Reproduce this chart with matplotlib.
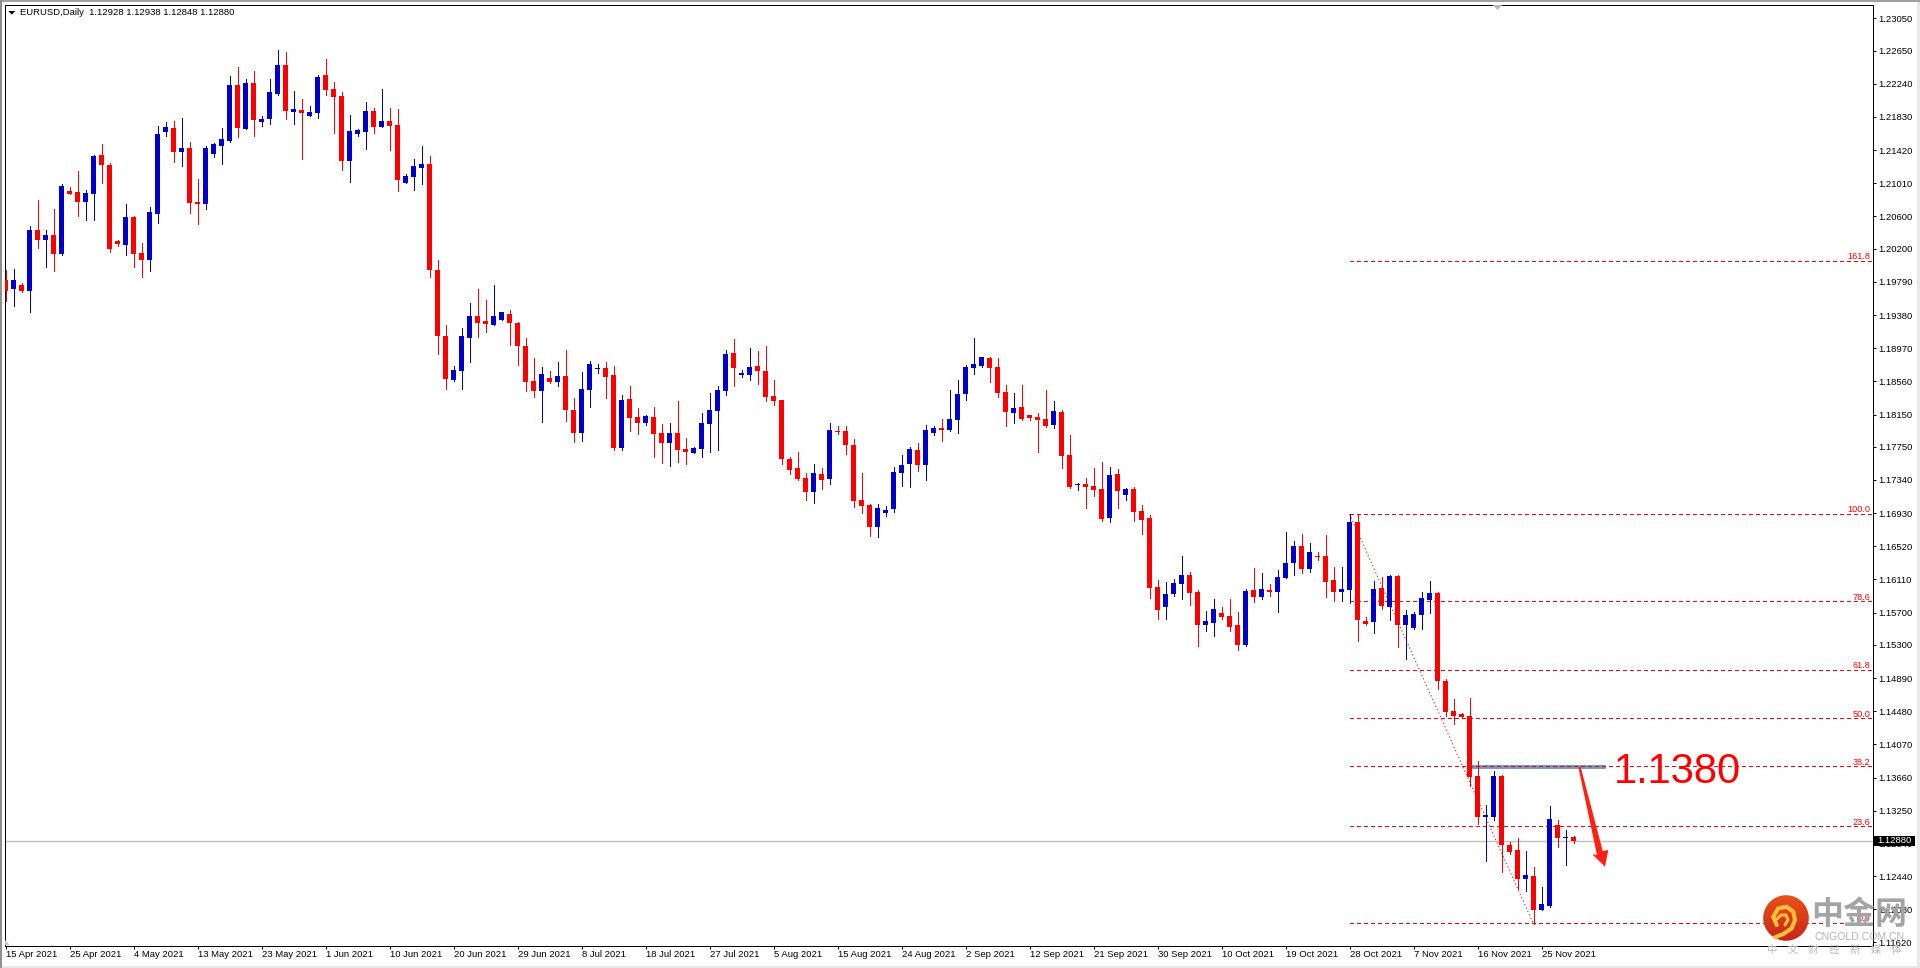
import numpy as np
import matplotlib
matplotlib.use("Agg")
import matplotlib.pyplot as plt
from matplotlib.patches import Polygon, Rectangle, Circle

plt.rcParams['lines.scale_dashes'] = False

# EURUSD daily candles, in points (1 point = 0.00001)
opens = [
119814,119702,119752,119678,120432,120308,120370,120135,120915,120902,
120778,120877,121360,121236,120296,120247,120593,120148,120061,120630,
121644,121694,121397,121446,120778,120754,121372,121471,121533,122226,
121681,122250,121768,121805,122114,122473,121892,121916,121842,121879,
122349,122176,122090,121286,121620,121644,121904,121706,121780,121731,
121013,121088,121199,121249,119937,119121,118577,118688,119096,119368,
119307,119257,119319,119393,119282,118997,118564,118441,118602,118552,
118626,118206,117921,118453,118713,118725,118639,117736,118342,118119,
118045,118119,117921,117797,117921,117723,117674,117723,118032,118193,
118441,118911,118639,118639,118750,118688,118379,118329,117600,117488,
117365,117191,117414,117352,117946,117946,117773,117092,117031,116758,
116932,116981,117426,117538,117711,117525,117921,117983,117958,118082,
118404,118725,118750,118849,118738,118428,118169,118243,118144,118119,
118094,118020,118181,117649,117278,117290,117266,117229,116870,117414,
117154,117229,116956,116870,116016,115769,115930,116053,116165,115955,
115546,115571,115695,115658,115546,115299,115979,115893,115979,115955,
116128,116313,116524,116239,116400,116400,116103,115955,115979,116820,
115596,115584,116004,115769,116152,115546,115509,115670,115856,115942,
114854,114483,114445,114421,113679,113171,113171,113679,112825,112763,
112405,112442,112021,112071,113073,112912,112928]
closes = [
119678,119814,119678,120432,120308,120370,120135,120976,120877,120778,
120890,121347,121236,120197,120259,120593,120135,120061,120655,121620,
121706,121397,121446,120766,120754,121446,121496,121558,122226,121694,
122250,121793,121805,122139,122473,121904,121929,121879,121892,122325,
122164,122077,121286,121657,121669,121904,121706,121780,121718,121051,
121100,121224,121249,119937,119121,118589,118700,119121,119368,119282,
119269,119368,119418,119282,118997,118552,118441,118651,118552,118626,
118206,117921,118465,118775,118725,118614,117736,118329,118107,118045,
118132,117909,117797,117921,117711,117686,117736,118045,118206,118453,
118898,118725,118663,118738,118688,118366,118317,117600,117464,117352,
117191,117426,117340,117958,117934,117773,117080,117018,116758,116994,
116969,117439,117525,117723,117525,117958,117983,117958,118094,118404,
118738,118775,118861,118725,118416,118181,118230,118094,118107,118082,
118008,118193,117637,117253,117290,117253,117216,116857,117402,117204,
117229,116944,116845,116004,115732,115930,116066,116165,115942,115546,
115596,115744,115645,115522,115299,115967,115893,115992,115955,116140,
116313,116524,116239,116449,116387,116078,115955,115992,116820,115608,
115559,115992,115781,116152,115546,115670,115682,115880,115942,114854,
114470,114421,114408,113666,113171,113196,113679,112825,112739,112405,
112454,112021,112095,113147,112912,112924,112880]
highs = [
119937,119950,119772,120482,120803,120432,120692,121001,120964,121162,
120927,121360,121496,121261,120308,120754,120605,120271,120717,121718,
121768,121780,121817,121521,121063,121471,121508,121694,122337,122448,
122300,122399,121842,122300,122659,122634,122151,122052,121966,122349,
122547,122263,122139,121855,121681,122015,121941,122176,121941,121929,
121125,121310,121471,121347,120061,119257,118750,119220,119529,119702,
119566,119752,119418,119443,119294,119096,118849,118738,118688,118799,
118948,118354,118676,118812,118775,118799,118750,118391,118503,118230,
118144,118243,118032,118045,118317,117859,117748,118169,118416,118503,
118948,119084,118700,118973,118935,118997,118577,118329,117624,117686,
117426,117538,117488,118045,118008,118008,117847,117426,117043,117043,
117018,117501,117649,117748,117797,118020,118008,118094,118453,118577,
118762,119096,118861,118861,118849,118515,118416,118515,118144,118169,
118453,118317,118206,117896,117303,117365,117488,117562,117501,117476,
117241,117253,117031,116907,116103,116078,116115,116400,116202,115979,
115720,115868,115769,115868,115707,115992,116251,116190,116053,116227,
116697,116585,116672,116561,116449,116660,116264,116264,116919,116919,
115645,116091,116140,116165,116165,115732,115707,115955,116091,115955,
114878,114631,114458,114643,113864,113320,113740,113691,112862,112912,
112751,112553,112306,113308,113134,113011,112938]
lows = [
119558,119492,119665,119418,120210,119974,119925,120123,120877,120605,
120556,120556,121013,120160,120234,120123,119974,119851,119925,120519,
121595,121273,121224,120642,120506,120692,121335,121249,121521,121582,
121681,121595,121718,121743,122102,121805,121743,121310,121842,121817,
122102,121632,121174,121026,121595,121434,121632,121706,121422,120915,
121013,120927,121001,119851,118898,118465,118564,118465,118799,119109,
119170,119257,119319,119010,118762,118441,118366,118057,118540,118503,
118070,117810,117822,118243,118663,118354,117711,117711,117946,117909,
118020,117624,117550,117513,117562,117538,117674,117624,117686,117711,
118391,118503,118614,118577,118527,118317,118268,117538,117414,117340,
117092,117055,117229,117290,117909,117661,117006,116932,116647,116635,
116895,116944,117266,117253,117451,117340,117896,117822,117946,117921,
118329,118651,118738,118552,118366,118008,118045,118082,118082,117686,
117995,117983,117488,117241,117216,116994,117142,116833,116820,116994,
117092,116833,116672,115880,115621,115621,115905,115868,115794,115287,
115472,115410,115621,115472,115237,115287,115831,115868,115905,115707,
116128,116165,116190,116202,116350,115893,115843,115843,115818,115348,
115546,115447,115744,115608,115274,115126,115497,115497,115695,114755,
114421,114322,114396,113555,113085,112627,113134,112491,112714,112281,
112256,111848,112021,112058,112800,112578,112848]

date_labels = ['15 Apr 2021','25 Apr 2021','4 May 2021','13 May 2021','23 May 2021','1 Jun 2021',
               '10 Jun 2021','20 Jun 2021','29 Jun 2021','8 Jul 2021','18 Jul 2021','27 Jul 2021',
               '5 Aug 2021','15 Aug 2021','24 Aug 2021','2 Sep 2021','12 Sep 2021','21 Sep 2021',
               '30 Sep 2021','10 Oct 2021','19 Oct 2021','28 Oct 2021','7 Nov 2021','16 Nov 2021','25 Nov 2021']
date_every = 8
price_ticks = [1.23050,1.22650,1.22240,1.21830,1.21420,1.21010,1.20600,1.20200,1.19790,1.19380,
               1.18970,1.18560,1.18150,1.17750,1.17340,1.16930,1.16520,1.16110,1.15700,1.15300,
               1.14890,1.14480,1.14070,1.13660,1.13250,1.12840,1.12440,1.12030,1.11620]
fib_names = ['0.0','23.6','38.2','50.0','61.8','78.6','100.0','161.8']
fib_prices = [1.11860,1.13056,1.13798,1.14392,1.14986,1.15839,1.16919,1.20045]
fib_start_bar = 168
fib_line_from = (168, 1.16919)
fib_line_to = (191, 1.11848)
last_price = 1.12880
resistance_price = 1.13779
resistance_bars = (183.3, 199.9)

W, H = 1920, 968
FONT = ['Liberation Sans', 'DejaVu Sans']
FS = 6.8
RED, BLUE = '#ff0000', '#0000cd'
PX = 0.72

fig = plt.figure(figsize=(W/100, H/100), dpi=100, facecolor='white')
ax = fig.add_axes([4.5/W, 1-945.5/H, 1868/W, 941/H], facecolor='white')

o, c, h, l = [np.array(a)/1e5 for a in (opens, closes, highs, lows)]
x = np.arange(len(o))
up = c >= o
cols = [BLUE if u else RED for u in up]

# last price line
ax.axhline(last_price, color='#c0c0c0', lw=1.0, zorder=1.5)

# resistance box
ax.add_patch(Rectangle((resistance_bars[0], resistance_price), resistance_bars[1]-resistance_bars[0],
                       0.00027, fc='#e4edf5', ec='#4682b4', lw=1.1, zorder=1.8))

# Fibonacci retracement
fx1 = (1872.5-5.5)/8
ax.hlines(fib_prices, fib_start_bar, fx1, colors=RED, lw=PX, linestyles=[(0, (2.88, 2.16))],
          antialiased=False, zorder=2)
ax.plot([fib_line_from[0], fib_line_to[0]], [fib_line_from[1], fib_line_to[1]], color=RED, lw=PX,
        ls=(0, (0.9, 1.8)), zorder=2)
for n, p in zip(fib_names, fib_prices):
    ax.annotate(n, (fx1, p), xytext=(-1.3, 1.3), textcoords='offset points', ha='right', va='baseline',
                color=RED, fontsize=6.6, family=FONT, zorder=3)

# candles
ax.vlines(x, l, h, colors=cols, lw=PX, antialiased=False, zorder=4)
ax.bar(x, np.maximum(np.abs(c-o), 0.00002), bottom=np.minimum(o, c), width=5/8, color=cols,
       linewidth=0, antialiased=False, zorder=5)

ax.set_xlim((4.5-5.5)/8, (1872.5-5.5)/8)
ax.set_ylim(1.115821, 1.232213)
ax.yaxis.tick_right()
ax.set_yticks(price_ticks)
ax.set_yticklabels([f'{v:.5f}' for v in price_ticks], family=FONT, fontsize=FS, color='black')
ax.set_xticks(np.arange(len(date_labels))*date_every)
ax.set_xticklabels(date_labels, family=FONT, fontsize=FS, color='black', ha='left')
ax.tick_params(axis='y', length=2.2, width=PX, pad=1.8, direction='out')
ax.tick_params(axis='x', length=2.2, width=PX, pad=1.0, direction='out')
for s in ax.spines.values():
    s.set_linewidth(PX)
    s.set_color('black')

# overlay in image pixels: window chrome, hand-drawn annotation, watermark
ov = fig.add_axes([0, 0, 1, 1], facecolor='none', zorder=10)
ov.set_xlim(0, W); ov.set_ylim(H, 0); ov.axis('off')

# chrome
ov.add_patch(Rectangle((0, 0), W, 2, fc='#a0a0a0', ec='none'))
ov.add_patch(Rectangle((0, 0), 2, H, fc='#909090', ec='none'))
ov.add_patch(Rectangle((1917, 2), 3, H, fc='#e8e8e8', ec='none'))
ov.add_patch(Rectangle((2, 965.5), W, 3, fc='#e8e8e8', ec='none'))
ov.add_patch(Polygon([(8.3, 11), (15.3, 11), (11.8, 14.6)], fc='black', ec='none'))
ov.add_patch(Polygon([(1492.7, 5), (1502.3, 5), (1497.5, 10)], fc='#b8b8b8', ec='none'))
ov.add_patch(Polygon([(5, 940), (5, 945), (10, 945)], fc='#c8c8c8', ec='none'))
ov.text(20, 12.5, 'EURUSD,Daily  1.12928 1.12938 1.12848 1.12880', family=FONT, fontsize=FS,
        color='black', ha='left', va='center')

# last price tag
ov.add_patch(Rectangle((1874, 835.7), 41, 10, fc='black', ec='none', zorder=3))
ov.text(1894.5, 840.6, '1.12880', family=FONT, fontsize=FS, color='white', ha='center', va='center', zorder=4)

# hand-drawn label and arrow
ov.text(1614, 783, '1.1380', family='Liberation Sans', fontsize=30, color='#ff0000', ha='left', va='baseline')
ov.add_patch(Polygon([(1578.3, 767), (1580.7, 767), (1602.7, 851), (1608.3, 850), (1605, 866.7),
                      (1592.3, 854.3), (1597, 855)], fc='#ff2012', ec='none'))

# watermark
yy = np.linspace(0, 1, 64)
grad = np.zeros((64, 1, 3))
grad[:, 0, 0] = 0.92 - 0.14*yy
grad[:, 0, 1] = 0.32 - 0.17*yy
grad[:, 0, 2] = 0.10
im = ov.imshow(grad, extent=(1763, 1809, 941, 895), aspect='auto', zorder=5)
im.set_clip_path(Circle((1786, 918), 22.8, transform=ov.transData))
ov.set_xlim(0, W); ov.set_ylim(H, 0)
swirl = [(1776.7, 925), (1773.3, 916.7), (1778.3, 908.3), (1786.7, 906.7), (1793.3, 911.7),
         (1795, 920), (1791.7, 928.3), (1783.3, 934), (1775, 937.3)]
ov.plot(*zip(*swirl), color='#f8bf3a', lw=3.0, solid_capstyle='round', zorder=6)
ov.plot([1777, 1781, 1786, 1788, 1785], [919, 915, 915, 920, 925], color='#f8bf3a', lw=2.2,
        solid_capstyle='round', zorder=6)
CJK = ['Noto Sans CJK SC', 'DejaVu Sans']
ov.text(1859.5, 915, '中金网', family=CJK, fontweight='bold', fontsize=23, color='#a4a4a4',
        ha='center', va='center', zorder=6)
ov.text(1860, 936.5, 'CNGOLD.COM.CN', family='Liberation Sans', fontsize=7.6, color='#b4b4b4',
        ha='center', va='center', zorder=6)
ov.text(1834.5, 950, '中\u3000文\u3000财\u3000经\u3000新\u3000媒\u3000体', family=CJK, fontsize=7.5,
        color='#b8b8b8', ha='center', va='center', zorder=6)

fig.savefig('out.png', dpi=100)
